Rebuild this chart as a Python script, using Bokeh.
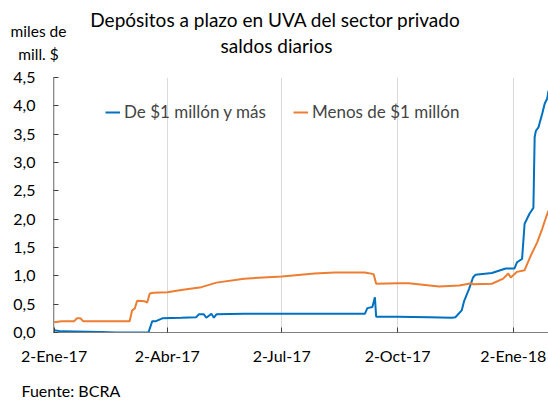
import pandas as pd
from bokeh.plotting import figure
from bokeh.layouts import column
from bokeh.models import (Range1d, FixedTicker, Label, Legend, LegendItem)
from bokeh.embed import file_html
from bokeh.resources import INLINE

# ---------------- data ----------------
blue_dates = ["2017-01-02", "2017-01-08", "2017-02-08", "2017-02-20", "2017-03-18",
              "2017-03-21", "2017-03-24", "2017-03-29", "2017-04-13", "2017-04-25",
              "2017-04-27", "2017-05-01", "2017-05-03", "2017-05-07", "2017-05-09",
              "2017-05-11", "2017-06-02", "2017-07-02", "2017-08-13", "2017-09-06",
              "2017-09-08", "2017-09-12", "2017-09-14", "2017-09-15", "2017-10-02",
              "2017-10-27", "2017-11-14", "2017-11-17", "2017-11-22", "2017-11-24",
              "2017-11-28", "2017-12-01", "2017-12-03", "2017-12-16", "2017-12-27",
              "2018-01-03", "2018-01-05", "2018-01-09", "2018-01-11", "2018-01-15",
              "2018-01-18", "2018-01-19", "2018-01-20", "2018-01-22", "2018-01-25",
              "2018-01-27", "2018-01-29", "2018-01-30"]
blue_vals = [0.04, 0.02, 0.01, 0.0, 0.0,
             0.20, 0.20, 0.25, 0.26, 0.27,
             0.32, 0.32, 0.26, 0.33, 0.26,
             0.32, 0.33, 0.33, 0.33, 0.33,
             0.43, 0.45, 0.62, 0.28, 0.28,
             0.27, 0.26, 0.27, 0.39, 0.56,
             0.78, 0.97, 1.02, 1.05, 1.13,
             1.13, 1.24, 1.30, 1.92, 2.10,
             2.20, 3.45, 3.56, 3.62, 3.86,
             4.04, 4.13, 4.27]

orange_dates = ["2017-01-02", "2017-01-08", "2017-01-18", "2017-01-20", "2017-01-23",
                "2017-01-25", "2017-03-03", "2017-03-05", "2017-03-07", "2017-03-09",
                "2017-03-15", "2017-03-17", "2017-03-19", "2017-03-22", "2017-04-02",
                "2017-04-13", "2017-04-29", "2017-05-11", "2017-06-02", "2017-07-02",
                "2017-07-28", "2017-08-13", "2017-09-06", "2017-09-13", "2017-09-15",
                "2017-10-02", "2017-10-11", "2017-11-04", "2017-11-20", "2017-11-30",
                "2017-12-01", "2017-12-16", "2017-12-25", "2017-12-29", "2017-12-31",
                "2018-01-05", "2018-01-11", "2018-01-16", "2018-01-21", "2018-01-25",
                "2018-01-28", "2018-01-30"]
orange_vals = [0.18, 0.20, 0.20, 0.25, 0.25,
               0.20, 0.20, 0.39, 0.42, 0.56,
               0.55, 0.53, 0.69, 0.70, 0.71,
               0.75, 0.80, 0.88, 0.95, 0.99,
               1.04, 1.06, 1.06, 1.03, 0.86,
               0.87, 0.87, 0.81, 0.83, 0.87,
               0.85, 0.86, 0.95, 1.04, 0.97,
               1.07, 1.10, 1.36, 1.59, 1.83,
               2.03, 2.15]

x_tick_dates = ["2017-01-02", "2017-04-02", "2017-07-02", "2017-10-02", "2018-01-02"]
x_tick_labels = ["2-Ene-17", "2-Abr-17", "2-Jul-17", "2-Oct-17", "2-Ene-18"]
y_ticks = [0.0, 0.5, 1.0, 1.5, 2.0, 2.5, 3.0, 3.5, 4.0, 4.5]
y_tick_labels = ["0,0", "0,5", "1,0", "1,5", "2,0", "2,5", "3,0", "3,5", "4,0", "4,5"]

series_names = ["De $1 millón y más", "Menos de $1 millón"]
title_lines = ["Depósitos a plazo en UVA del sector privado", "saldos diarios"]
unit_lines = ["miles de", "mill. $"]
source_text = "Fuente: BCRA"
x_first = "2017-01-02"
x_last = "2018-01-30"

# ---------------- styling ----------------
FONT = "Lato"
BLUE = "#0070C0"
ORANGE = "#ED7D31"
W = 548
HEAD_H = 67
MAIN_H = 305
FOOT_H = 29
X_PAD = 0.5   # days of padding left of the first date


def day_number(dates):
    """days since x_first"""
    base = pd.Timestamp(x_first)
    return [(pd.Timestamp(d) - base).days for d in dates]


def text_fig(height):
    f = figure(width=W, height=height, output_backend="svg", toolbar_location=None,
               x_range=Range1d(0, 1), y_range=Range1d(0, 1),
               x_axis_location=None, y_axis_location=None, min_border=0)
    f.frame_align = False
    f.outline_line_color = None
    f.grid.visible = False
    f.background_fill_color = "white"
    f.border_fill_color = "white"
    return f


def add_text(fig, txt, x, y, size, align="center"):
    fig.add_layout(Label(x=x, y=y, x_units="screen", y_units="screen", text=txt,
                         text_font=FONT, text_font_size=size, text_align=align,
                         text_baseline="middle", text_color="#000000"))


# ---------- header (title + units) ----------
h = text_fig(HEAD_H)
add_text(h, title_lines[0], 275, HEAD_H - 19, "19px")
add_text(h, title_lines[1], 276, HEAD_H - 45, "19px")
add_text(h, unit_lines[0], 38, HEAD_H - 30, "15.5px")
add_text(h, unit_lines[1], 38, HEAD_H - 53, "15.5px")

# ---------- main chart ----------
p = figure(width=W, height=MAIN_H,
           output_backend="svg", toolbar_location=None,
           x_range=Range1d(-X_PAD, day_number([x_last])[0]), y_range=Range1d(0, 4.5),
           min_border_left=53, min_border_right=0,
           min_border_top=10, min_border_bottom=40)
p.frame_align = False
p.outline_line_color = None
p.background_fill_color = "white"
p.border_fill_color = "white"

r_blue = p.line(day_number(blue_dates), blue_vals, line_color=BLUE, line_width=2)
r_orange = p.line(day_number(orange_dates), orange_vals, line_color=ORANGE, line_width=2)

tick_pos = day_number(x_tick_dates)
p.xaxis.ticker = FixedTicker(ticks=tick_pos)
p.xaxis.major_label_overrides = {t: l for t, l in zip(tick_pos, x_tick_labels)}
p.yaxis.ticker = FixedTicker(ticks=y_ticks)
p.yaxis.major_label_overrides = {t: l for t, l in zip(y_ticks, y_tick_labels)}

for ax in (p.xaxis, p.yaxis):
    ax.major_tick_in = 5
    ax.major_tick_out = 0
    ax.minor_tick_in = 0
    ax.minor_tick_out = 0
    ax.major_label_text_font = FONT
    ax.major_label_text_font_size = "16px"
    ax.major_label_text_color = "#000000"
    ax.major_tick_line_color = "#404040"
p.xaxis.axis_line_color = "#7f7f7f"
p.yaxis.axis_line_color = "#8c8c8c"
p.xaxis.major_label_standoff = 13
p.yaxis.major_label_standoff = 18

p.ygrid.grid_line_color = None
p.xgrid.grid_line_color = "#d9d9d9"
p.xgrid.grid_line_width = 1

for rend, name, xloc in ((r_blue, series_names[0], 52), (r_orange, series_names[1], 240)):
    lg = Legend(items=[LegendItem(label=name, renderers=[rend])],
                location=(xloc, 210), padding=0, margin=0, spacing=0,
                glyph_width=15, glyph_height=18, label_height=18,
                label_standoff=4, label_text_font=FONT,
                label_text_font_size="17px",
                border_line_alpha=0, background_fill_alpha=0)
    p.add_layout(lg)

# ---------- footer (source) ----------
ft = text_fig(FOOT_H)
add_text(ft, source_text, 21, FOOT_H - 18, "16px", align="left")

layout = column(h, p, ft, spacing=0)
open("out.html", "w").write(file_html(layout, INLINE))
